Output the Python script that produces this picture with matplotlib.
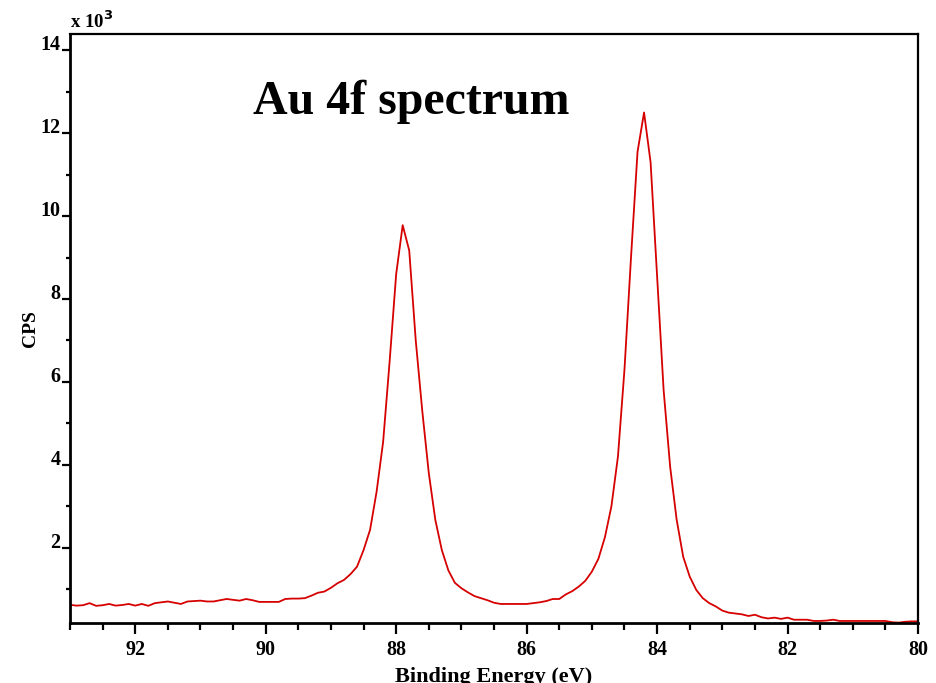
import numpy as np
import matplotlib.pyplot as plt
from matplotlib.ticker import MultipleLocator, FuncFormatter

# Au 4f XPS spectrum, 0.1 eV steps from 93.0 down to 80.0 eV
binding_energy = np.round(np.linspace(93.0, 80.0, 131), 1)
cps = [
    620, 600, 610, 660, 595, 610, 640, 600, 615, 640,        # 93.0 - 92.1
    600, 640, 595, 660, 680, 700, 670, 640, 700, 710,        # 92.0 - 91.1
    720, 700, 700, 730, 760, 740, 720, 760, 730, 690,        # 91.0 - 90.1
    690, 690, 690, 760, 770, 770, 780, 840, 910, 940,        # 90.0 - 89.1
    1030, 1140, 1220, 1360, 1540, 1940, 2430, 3350, 4550, 6500,   # 89.0 - 88.1
    8600, 9780, 9170, 7000, 5300, 3800, 2670, 1940, 1450, 1150,   # 88.0 - 87.1
    1020, 920, 830, 780, 730, 670, 640, 640, 640, 640,       # 87.0 - 86.1
    640, 660, 680, 710, 760, 760, 870, 950, 1060, 1200,      # 86.0 - 85.1
    1420, 1730, 2250, 3000, 4200, 6300, 9000, 11550, 12500, 11300,  # 85.0 - 84.1
    8530, 5800, 3950, 2670, 1780, 1300, 980, 780, 660, 580,  # 84.0 - 83.1
    480, 430, 410, 390, 350, 380, 320, 290, 310, 280,        # 83.0 - 82.1
    310, 260, 260, 260, 230, 230, 240, 260, 230, 230,        # 82.0 - 81.1
    230, 230, 230, 230, 230, 230, 200, 190, 210, 220,        # 81.0 - 80.1
    220,                                                     # 80.0
]

plt.rcParams['font.family'] = ['Liberation Serif', 'DejaVu Serif']
plt.rcParams['font.weight'] = 'bold'

fig = plt.figure(figsize=(9.36, 6.83), dpi=100)
ax = fig.add_axes([0.0748, 0.0878, 0.906, 0.8622])

ax.plot(binding_energy, cps, color='#d60000', linewidth=1.3)

ax.set_xlim(93, 80)
ax.set_ylim(180, 14390)

ax.xaxis.set_major_locator(MultipleLocator(2))
ax.xaxis.set_minor_locator(MultipleLocator(0.5))
ax.yaxis.set_major_locator(MultipleLocator(2000))
ax.yaxis.set_minor_locator(MultipleLocator(1000))
ax.xaxis.set_major_formatter(FuncFormatter(lambda v, p: '%d' % round(v)))
ax.yaxis.set_major_formatter(FuncFormatter(lambda v, p: '%d' % round(v / 1000)))

ax.tick_params(axis='x', which='major', length=8, width=1.6, pad=4, labelsize=14.5)
ax.tick_params(axis='x', which='minor', length=5, width=1.6)
ax.tick_params(axis='y', which='major', length=6, width=1.6, pad=1, labelsize=14.5)
ax.tick_params(axis='y', which='minor', length=3, width=1.6)
for lbl in ax.get_yticklabels():
    lbl.set_verticalalignment('baseline')

for side in ['left', 'bottom']:
    ax.spines[side].set_linewidth(2.0)
for side in ['top', 'right']:
    ax.spines[side].set_linewidth(1.6)

ax.set_xlabel('Binding Energy (eV)', fontsize=16, fontweight='bold', labelpad=5)
ax.set_ylabel('CPS', fontsize=14, fontweight='bold', labelpad=1)

ax.text(0.0, 1.003, r'x 10$^{\mathbf{3}}$', transform=ax.transAxes, fontsize=13.5,
        fontweight='bold', va='bottom', ha='left')
ax.text(0.402, 0.885, 'Au 4f spectrum', transform=ax.transAxes, fontsize=34.5,
        fontweight='bold', ha='center', va='center')

fig.savefig('out.png', dpi=100)
